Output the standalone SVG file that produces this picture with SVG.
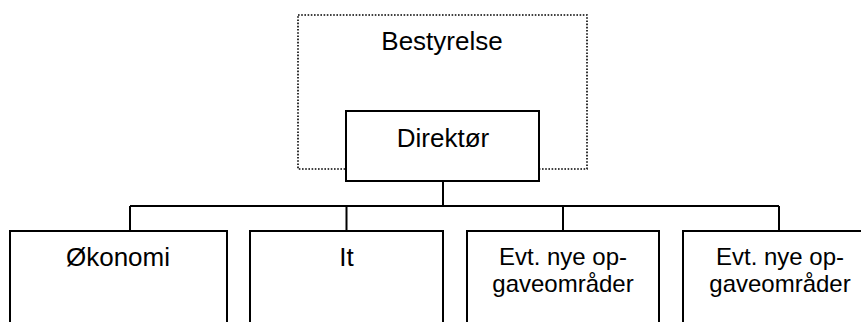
<svg xmlns="http://www.w3.org/2000/svg" width="861" height="322" viewBox="0 0 861 322">
<style>
.box{fill:#fff;stroke:#000;stroke-width:2}
.dot{fill:none;stroke:#000;stroke-width:1.6;stroke-dasharray:1.6 1.6}
.ln{fill:none;stroke:#000;stroke-width:2}
text{font-family:"Liberation Sans",Arial,sans-serif;font-size:26px;fill:#000;text-anchor:middle}
text.sm{font-size:24px}
</style>
<rect width="861" height="322" fill="#fff"/>
<g id="bestyrelse">
<rect class="dot" x="298" y="15" width="289" height="154"/>
<text x="442" y="50">Bestyrelse</text>
</g>
<g id="connectors">
<path class="ln" d="M443 181V206M130 206H779M130 206V231M346.5 206V231M563 206V231M779 206V231"/>
</g>
<g id="direktor">
<rect class="box" x="346" y="111" width="193" height="70"/>
<text x="443" y="147">Direktør</text>
</g>
<g id="okonomi">
<rect class="box" x="10" y="231" width="217" height="110"/>
<text x="118" y="266">Økonomi</text>
</g>
<g id="it">
<rect class="box" x="250" y="231" width="193" height="110"/>
<text x="346.5" y="266">It</text>
</g>
<g id="evt1">
<rect class="box" x="467" y="231" width="192" height="110"/>
<text class="sm" x="563" y="265">Evt. nye op-</text>
<text class="sm" x="563" y="292">gaveområder</text>
</g>
<g id="evt2">
<rect class="box" x="683" y="231" width="200" height="110"/>
<text class="sm" x="780" y="265">Evt. nye op-</text>
<text class="sm" x="780" y="292">gaveområder</text>
</g>
</svg>
